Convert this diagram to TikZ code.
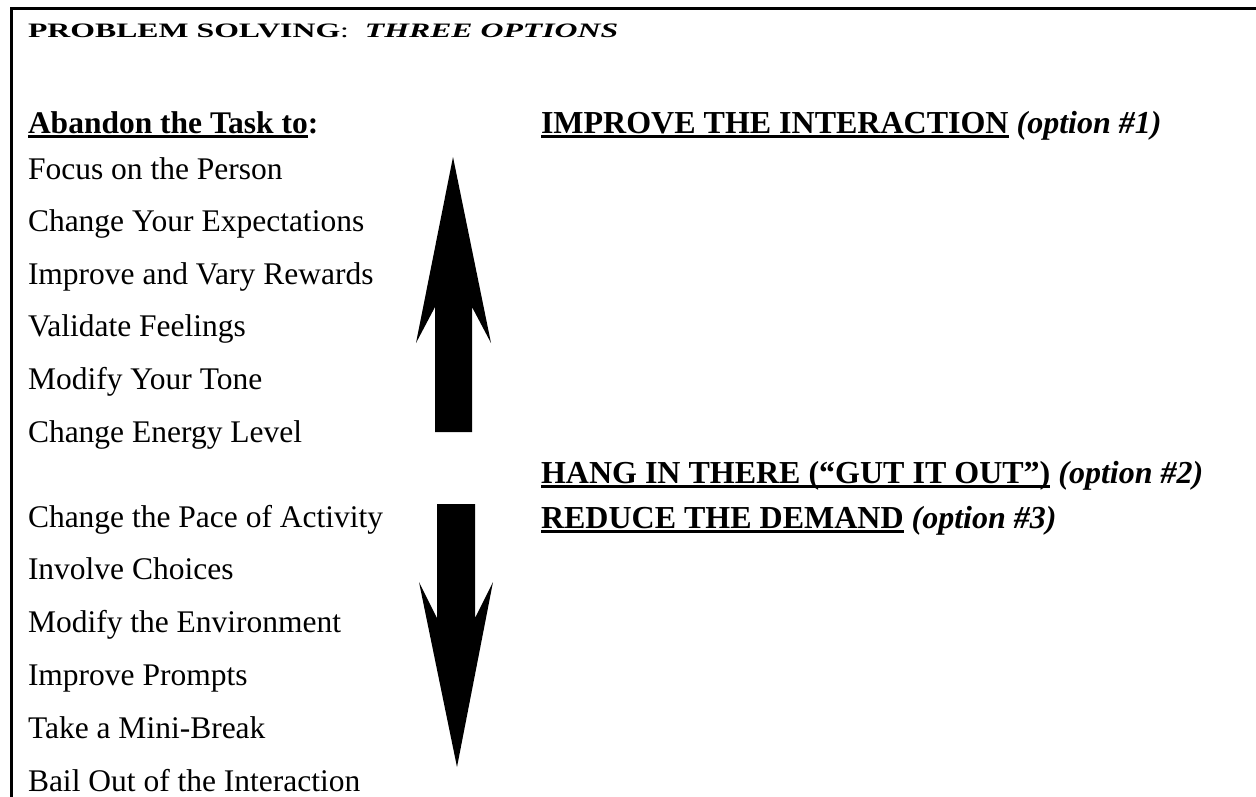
\documentclass[tikz,border=0pt]{standalone}
\usepackage{fontspec}
\setmainfont{Liberation Serif}
\usepackage{graphicx}
% thick underline under a piece of text
\newcommand\ulbar[1]{\setbox0\hbox{#1}\rlap{\rule[-4.5pt]{\wd0}{3pt}}\box0\relax}
\tikzset{
  body/.style={anchor=base west, inner sep=0pt, outer sep=0pt,
               font=\fontsize{31.5}{36}\selectfont},
  lefthead/.style={body, font=\fontsize{31.5}{36}\selectfont\bfseries},
  righthead/.style={body, font=\fontsize{32}{37}\selectfont\bfseries},
  frame/.style={line width=3pt},
  bigarrow/.style={fill=black, draw=none}
}
\begin{document}
\begin{tikzpicture}[x=1pt, y=-1pt]
  \useasboundingbox (0,0) rectangle (1256,796);
  % page frame (top and left edges)
  \draw[frame] (11.5,800) -- (11.5,8) -- (1260,8);

  % title
  \node[body] (title) at (28,37)
    {\scalebox{1.55}[1]{\fontsize{20.5}{24}\selectfont\textbf{PROBLEM SOLVING}:\ \ \textbf{\textit{THREE OPTIONS}}}};

  % left column
  \node[lefthead] (abandon) at (28,133) {\ulbar{Abandon the Task to}:};
  \foreach \t [count=\i] in {Focus on the Person, Change Your Expectations,
      Improve and Vary Rewards, Validate Feelings, Modify Your Tone,
      Change Energy Level}
    \node[body] (up\i) at (28,{179+52.6*(\i-1)}) {\t};
  \foreach \t [count=\i] in {Change the Pace of Activity, Involve Choices,
      Modify the Environment, Improve Prompts, Take a Mini-Break,
      Bail Out of the Interaction}
    \node[body] (down\i) at (28,{527+52.8*(\i-1)}) {\t};

  % right column
  \node[righthead] (opt1) at (541,133)
    {\ulbar{IMPROVE THE INTERACTION} \textit{(option \#1)}};
  \node[righthead] (opt2) at (541,483)
    {\ulbar{HANG IN THERE (“GUT IT OUT”)} \textit{(option \#2)}};
  \node[righthead] (opt3) at (541,528)
    {\ulbar{REDUCE THE DEMAND} \textit{(option \#3)}};

  % block arrows
  \fill[bigarrow] (453,157) -- (491,343) -- (472,307) -- (472,432)
                  -- (435,432) -- (435,307) -- (416,343) -- cycle;
  \fill[bigarrow] (437,504) -- (475,504) -- (475,618) -- (493,582)
                  -- (457,767) -- (419,582) -- (437,618) -- cycle;
\end{tikzpicture}
\end{document}
